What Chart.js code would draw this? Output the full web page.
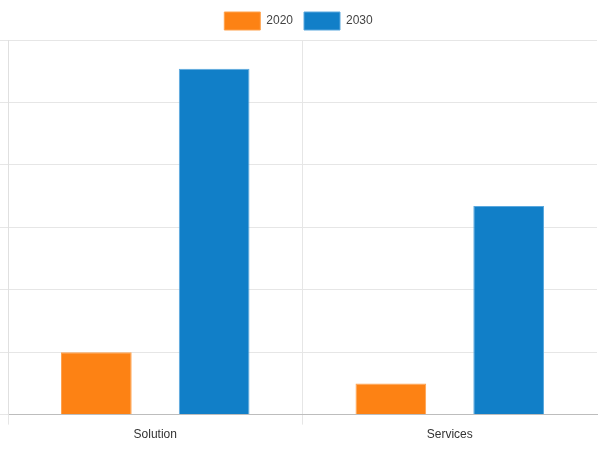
<!DOCTYPE html>
<html>
<head>
<meta charset="utf-8">
<script src="https://cdn.jsdelivr.net/npm/chart.js@4/dist/chart.umd.min.js"></script>
<style>
  html, body { margin: 0; padding: 0; background: #fff; }
  #wrap { width: 600px; height: 452px; }
</style>
</head>
<body>
<div id="wrap"><canvas id="marketChart"></canvas></div>
<script>
const categories = ['Solution', 'Services'];
const seriesNames = ['2020', '2030'];
const values2020 = [1.0, 0.5];
const values2030 = [5.54, 3.34];

const ctx = document.getElementById('marketChart').getContext('2d');
Chart.defaults.font.family = "'Liberation Sans Narrow', 'Arial Narrow', 'Liberation Sans', sans-serif";
Chart.defaults.font.size = 12;
Chart.defaults.color = '#444';

const config = {
  type: 'bar',
  data: {
    labels: categories,
    datasets: [{
      label: seriesNames[0],
      data: values2020,
      backgroundColor: '#fd8214',
      borderColor: '#ffa24d',
      borderWidth: 1
    }, {
      label: seriesNames[1],
      data: values2030,
      backgroundColor: '#117fc8',
      borderColor: '#5aa8de',
      borderWidth: 1
    }]
  },
  options: {
    responsive: true,
    maintainAspectRatio: false,
    animation: false,
    layout: { padding: { left: 0, right: 3, top: 1, bottom: 7 } },
    plugins: {
      legend: {
        position: 'top',
        labels: { boxWidth: 36, boxHeight: 18, padding: 11 }
      },
      tooltip: { enabled: false }
    },
    datasets: {
      bar: { categoryPercentage: 0.8, barPercentage: 0.6 }
    },
    scales: {
      x: {
        grid: {
          // no line on the far right edge, as in the original
          color: c => c.type === 'scale' ? 'rgba(0,0,0,0)' : '#e6e6e6',
          tickLength: 10
        },
        border: { color: '#bdbdbd' },
        ticks: { color: '#333' }
      },
      y: {
        min: 0,
        max: 6,
        ticks: { display: false, stepSize: 1 },
        grid: { color: '#e6e6e6', tickLength: 8 },
        border: { color: '#e0e0e0' }
      }
    }
  }
};

new Chart(ctx, config);
</script>
</body>
</html>
